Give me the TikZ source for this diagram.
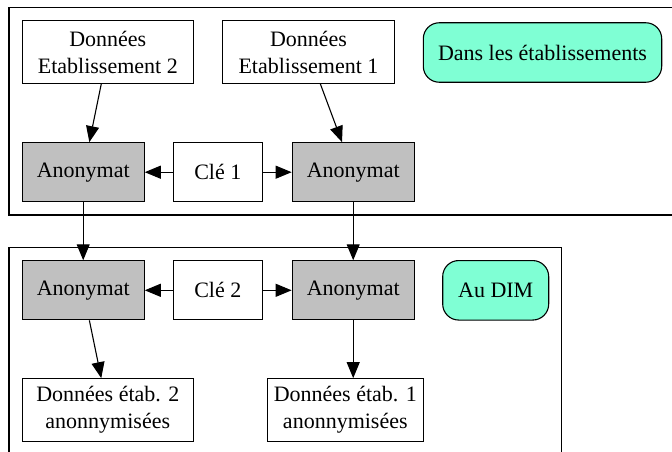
\documentclass[tikz,border=0pt]{standalone}
\usepackage{fontspec}
\setmainfont{Liberation Serif}
\usetikzlibrary{arrows.meta}

\definecolor{anongray}{HTML}{C0C0C0}
\definecolor{placegreen}{HTML}{7FFFD4}

\tikzset{
  box/.style={draw, line width=1.1pt, align=center, inner sep=0pt,
    font=\fontsize{22}{27}\selectfont},
  anon/.style={box, fill=anongray, minimum width=122pt, minimum height=59pt},
  key/.style={box, fill=white, minimum width=89pt, minimum height=59pt},
  data/.style={box, fill=white, minimum height=62.6pt},
  place/.style={box, fill=placegreen, rounded corners=16pt, minimum height=59.5pt},
  link/.style={line width=1.1pt, -{Triangle[length=16pt,width=13pt]}},
  cluster/.style={draw, line width=1.1pt}
}

\begin{document}
\begin{tikzpicture}[x=1pt,y=-1pt]
\useasboundingbox (0,0) rectangle (672,452);
\begin{scope}
\clip (0,0) rectangle (672,452);
\draw[cluster] (9,7.5) rectangle (690,215);
\draw[cluster] (9,247.7) rectangle (561.7,470);
\end{scope}
% dans les etablissements
\node[data, minimum width=171pt] (d2) at (107.8,52) {Données\\Etablissement 2};
\node[data, minimum width=171.6pt] (d1) at (308.5,52) {Données\\Etablissement 1};
\node[place, minimum width=238.4pt] (etab) at (542.5,52.5) {Dans les établissements};
\node[anon] (a1) at (83.2,172.2) {Anonymat};
\node[key] (c1) at (217.8,172.2) {Clé 1};
\node[anon] (a2) at (353.2,172.2) {Anonymat};
% au DIM
\node[anon] (a3) at (83.2,290.3) {Anonymat};
\node[key] (c2) at (217.8,290.3) {Clé 2};
\node[anon] (a4) at (353.2,290.3) {Anonymat};
\node[place, minimum width=106pt] (dim) at (495.7,290.3) {Au DIM};
\node[data, minimum width=171pt] (r2) at (107.8,410) {Données étab. 2\\anonnymisées};
\node[data, minimum width=156pt] (r1) at (345.3,410) {Données étab. 1\\anonnymisées};

\draw[link] (d2) -- (a1);
\draw[link] (d1) -- (a2);
\draw[link] (c1) -- (a1);
\draw[link] (c1) -- (a2);
\draw[link] (a1) -- (a3);
\draw[link] (a2) -- (a4);
\draw[link] (c2) -- (a3);
\draw[link] (c2) -- (a4);
\draw[link] (a3) -- (r2);
\draw[link] (a4) -- (a4 |- r1.north);
\end{tikzpicture}
\end{document}
